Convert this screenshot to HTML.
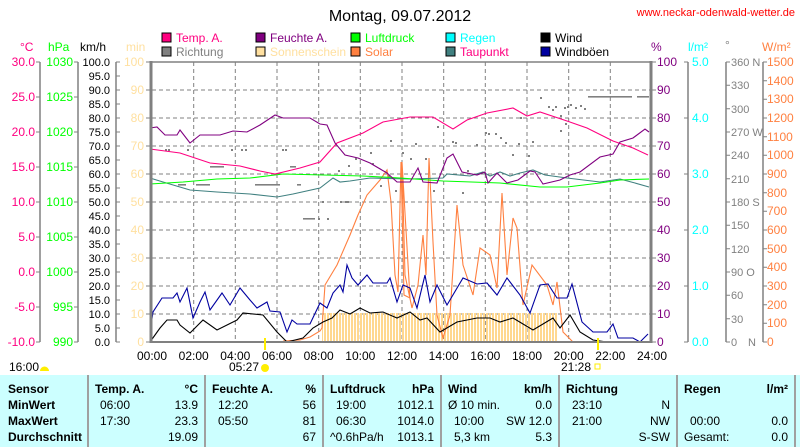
<!DOCTYPE html>
<html><head><meta charset="utf-8"><style>
html,body{margin:0;padding:0;background:#fff;width:800px;height:447px;overflow:hidden}
svg{display:block;font-family:"Liberation Sans",sans-serif;font-size:11px}
</style></head><body>
<svg width="800" height="447" viewBox="0 0 800 447" xmlns="http://www.w3.org/2000/svg">
<text x="400" y="21" font-size="16" text-anchor="middle">Montag, 09.07.2012</text>
<text x="795" y="16" font-size="11" fill="#ff0000" text-anchor="end">www.neckar-odenwald-wetter.de</text>
<g font-size="12">
<rect x="162" y="33" width="9" height="9" fill="#ff0080" stroke="#000"/><text x="176" y="42" fill="#ff0080">Temp. A.</text>
<rect x="256" y="33" width="9" height="9" fill="#800080" stroke="#000"/><text x="270" y="42" fill="#800080">Feuchte A.</text>
<rect x="351" y="33" width="9" height="9" fill="#00ff00" stroke="#000"/><text x="365" y="42" fill="#00ff00">Luftdruck</text>
<rect x="446" y="33" width="9" height="9" fill="#00ffff" stroke="#000"/><text x="460" y="42" fill="#00ffff">Regen</text>
<rect x="541" y="33" width="9" height="9" fill="#000" stroke="#000"/><text x="555" y="42" fill="#000">Wind</text>
<rect x="162" y="47" width="9" height="9" fill="#808080" stroke="#000"/><text x="176" y="56" fill="#808080">Richtung</text>
<rect x="256" y="47" width="9" height="9" fill="#ffe0a0" stroke="#000"/><text x="270" y="56" fill="#ffe0a0">Sonnenschein</text>
<rect x="351" y="47" width="9" height="9" fill="#ff8040" stroke="#000"/><text x="365" y="56" fill="#ff8040">Solar</text>
<rect x="446" y="47" width="9" height="9" fill="#408080" stroke="#000"/><text x="460" y="56" fill="#ff0080">Taupunkt</text>
<rect x="541" y="47" width="9" height="9" fill="#0000a0" stroke="#000"/><text x="555" y="56" fill="#000">Windböen</text>
</g>
<g font-size="12">
<text x="20" y="51" fill="#ff0080">°C</text>
<text x="48" y="51" fill="#00ff00">hPa</text>
<text x="80" y="51" fill="#000">km/h</text>
<text x="126" y="51" fill="#ffe0a0">min</text>
<text x="651" y="51" fill="#800080">%</text>
<text x="688" y="51" fill="#00ffff">l/m²</text>
<text x="725" y="49" fill="#808080">°</text>
<text x="762" y="51" fill="#ff8040">W/m²</text>
</g>
<g stroke="#808080" stroke-width="1.5">
<line x1="40" y1="62" x2="40" y2="342"/><line x1="78" y1="62" x2="78" y2="342"/><line x1="116" y1="62" x2="116" y2="342"/>
<line x1="688" y1="62" x2="688" y2="342"/><line x1="726" y1="62" x2="726" y2="342"/><line x1="763" y1="62" x2="763" y2="342"/>
</g>
<g fill="#ff0080" text-anchor="end" font-size="12">
<text x="35" y="66">30.0</text><text x="35" y="101">25.0</text><text x="35" y="136">20.0</text><text x="35" y="171">15.0</text><text x="35" y="206">10.0</text><text x="35" y="241">5.0</text><text x="35" y="276">0.0</text><text x="35" y="311">-5.0</text><text x="35" y="346">-10.0</text>
</g>
<g stroke="#808080"><path d="M36 62h4M36 97h4M36 132h4M36 167h4M36 202h4M36 237h4M36 272h4M36 307h4M36 342h4M74 62h4M74 97h4M74 132h4M74 167h4M74 202h4M74 237h4M74 272h4M74 307h4M74 342h4"/></g>
<g fill="#00ff00" text-anchor="end" font-size="12">
<text x="73" y="66">1030</text><text x="73" y="101">1025</text><text x="73" y="136">1020</text><text x="73" y="171">1015</text><text x="73" y="206">1010</text><text x="73" y="241">1005</text><text x="73" y="276">1000</text><text x="73" y="311">995</text><text x="73" y="346">990</text>
</g>
<g fill="#000" text-anchor="end">
<text x="110" y="66">100.0</text><text x="110" y="80">95.0</text><text x="110" y="94">90.0</text><text x="110" y="108">85.0</text><text x="110" y="122">80.0</text><text x="110" y="136">75.0</text><text x="110" y="150">70.0</text><text x="110" y="164">65.0</text><text x="110" y="178">60.0</text><text x="110" y="192">55.0</text><text x="110" y="206">50.0</text><text x="110" y="220">45.0</text><text x="110" y="234">40.0</text><text x="110" y="248">35.0</text><text x="110" y="262">30.0</text><text x="110" y="276">25.0</text><text x="110" y="290">20.0</text><text x="110" y="304">15.0</text><text x="110" y="318">10.0</text><text x="110" y="332">5.0</text><text x="110" y="346">0.0</text>
</g>
<g stroke="#808080"><path d="M116 62h4M116 76h4M116 90h4M116 104h4M116 118h4M116 132h4M116 146h4M116 160h4M116 174h4M116 188h4M116 202h4M116 216h4M116 230h4M116 244h4M116 258h4M116 272h4M116 286h4M116 300h4M116 314h4M116 328h4M116 342h4"/>
<path d="M146 62h4M146 90h4M146 118h4M146 146h4M146 174h4M146 202h4M146 230h4M146 258h4M146 286h4M146 314h4M146 342h4"/></g>
<g fill="#ffe0a0" text-anchor="end" font-size="12">
<text x="144" y="66">100</text><text x="144" y="94">90</text><text x="144" y="122">80</text><text x="144" y="150">70</text><text x="144" y="178">60</text><text x="144" y="206">50</text><text x="144" y="234">40</text><text x="144" y="262">30</text><text x="144" y="290">20</text><text x="144" y="318">10</text><text x="144" y="346">0</text>
</g>
<g stroke="#808080"><path d="M652 62h4M652 90h4M652 118h4M652 146h4M652 174h4M652 202h4M652 230h4M652 258h4M652 286h4M652 314h4M652 342h4
M684 62h4M684 118h4M684 174h4M684 230h4M684 286h4M684 342h4
M726 62h4M726 85.3h4M726 108.7h4M726 132h4M726 155.3h4M726 178.7h4M726 202h4M726 225.3h4M726 248.7h4M726 272h4M726 295.3h4M726 318.7h4M726 342h4
M763 62h4M763 80.7h4M763 99.3h4M763 118h4M763 136.7h4M763 155.3h4M763 174h4M763 192.7h4M763 211.3h4M763 230h4M763 248.7h4M763 267.3h4M763 286h4M763 304.7h4M763 323.3h4M763 342h4"/></g>
<g fill="#800080" font-size="12">
<text x="657" y="66">100</text><text x="657" y="94">90</text><text x="657" y="122">80</text><text x="657" y="150">70</text><text x="657" y="178">60</text><text x="657" y="206">50</text><text x="657" y="234">40</text><text x="657" y="262">30</text><text x="657" y="290">20</text><text x="657" y="318">10</text><text x="657" y="346">0</text>
</g>
<g fill="#00ffff" font-size="12">
<text x="692" y="66">5.0</text><text x="692" y="122">4.0</text><text x="692" y="178">3.0</text><text x="692" y="234">2.0</text><text x="692" y="290">1.0</text><text x="692" y="346">0.0</text>
</g>
<g fill="#808080">
<text x="731" y="66">360 N</text><text x="731" y="89">330</text><text x="731" y="113">300</text><text x="731" y="136">270 W</text><text x="731" y="159">240</text><text x="731" y="183">210</text><text x="731" y="206">180 S</text><text x="731" y="229">150</text><text x="731" y="253">120</text><text x="731" y="276">90 O</text><text x="731" y="299">60</text><text x="731" y="323">30</text><text x="731" y="346">0</text><text x="748" y="346">N</text>
</g>
<g fill="#ff8040" font-size="12">
<text x="767" y="66">1500</text><text x="767" y="85">1400</text><text x="767" y="103">1300</text><text x="767" y="122">1200</text><text x="767" y="141">1100</text><text x="767" y="159">1000</text><text x="767" y="178">900</text><text x="767" y="197">800</text><text x="767" y="215">700</text><text x="767" y="234">600</text><text x="767" y="253">500</text><text x="767" y="271">400</text><text x="767" y="290">300</text><text x="767" y="309">200</text><text x="767" y="327">100</text><text x="767" y="346">0</text>
</g>
<g stroke="#808080" stroke-dasharray="4,3">
<path d="M193.7 62V342M235.3 62V342M277 62V342M318.7 62V342M360.3 62V342M402 62V342M443.7 62V342M485.3 62V342M527 62V342M568.7 62V342M610.3 62V342"/>
<path d="M152 90H651M152 118H651M152 146H651M152 174H651M152 202H651M152 230H651M152 258H651M152 286H651M152 314H651"/>
</g>
<defs><pattern id="sun" x="0" y="0" width="3" height="10" patternUnits="userSpaceOnUse"><rect x="0" y="0" width="2" height="10" fill="#ffd890"/></pattern></defs>
<rect x="322" y="313" width="236" height="29" fill="url(#sun)"/>
<g fill="#808080">
<rect x="165" y="149" width="2" height="2"/><rect x="168" y="149" width="2" height="2"/><rect x="187" y="149" width="2" height="2"/><rect x="231" y="149" width="2" height="2"/><rect x="241" y="149" width="2" height="2"/><rect x="245" y="149" width="2" height="2"/><rect x="282" y="149" width="2" height="2"/><rect x="285" y="149" width="2" height="2"/>
<rect x="210" y="166" width="14" height="1.6"/><rect x="290" y="166" width="6" height="1.6"/><rect x="178" y="184" width="8" height="1.6"/><rect x="196" y="184" width="14" height="1.6"/><rect x="255" y="184" width="25" height="1.6"/><rect x="297" y="184" width="4" height="1.6"/>
<rect x="303" y="218" width="12" height="1.6"/><rect x="318" y="218" width="2" height="2"/><rect x="327" y="218" width="2" height="2"/>
<rect x="322" y="201" width="2" height="2"/><rect x="340" y="201" width="2" height="2"/><rect x="345" y="201" width="4" height="2"/>
<rect x="338" y="170" width="2" height="2"/><rect x="348" y="165" width="2" height="2"/><rect x="355" y="158" width="2" height="2"/><rect x="370" y="152" width="2" height="2"/><rect x="390" y="140" width="2" height="2"/><rect x="372" y="163" width="2" height="2"/><rect x="380" y="185" width="2" height="2"/><rect x="388" y="175" width="2" height="2"/><rect x="395" y="190" width="2" height="2"/><rect x="402" y="152" width="2" height="2"/>
<rect x="410" y="158" width="2" height="2"/><rect x="415" y="143" width="2" height="2"/><rect x="425" y="158" width="2" height="2"/><rect x="433" y="190" width="2" height="2"/><rect x="437" y="126" width="2" height="2"/><rect x="452" y="141" width="2" height="2"/><rect x="455" y="142" width="2" height="2"/><rect x="462" y="192" width="2" height="2"/><rect x="467" y="170" width="2" height="2"/><rect x="476" y="144" width="2" height="2"/><rect x="485" y="132" width="2" height="2"/><rect x="488" y="133" width="2" height="2"/><rect x="495" y="133" width="2" height="2"/><rect x="500" y="137" width="2" height="2"/><rect x="505" y="142" width="2" height="2"/><rect x="512" y="154" width="2" height="2"/><rect x="518" y="143" width="2" height="2"/><rect x="520" y="117" width="2" height="2"/><rect x="528" y="155" width="2" height="2"/><rect x="532" y="141" width="2" height="2"/><rect x="540" y="97" width="2" height="2"/><rect x="548" y="106" width="2" height="2"/><rect x="552" y="109" width="2" height="2"/><rect x="555" y="106" width="2" height="2"/><rect x="560" y="115" width="2" height="2"/><rect x="564" y="107" width="2" height="2"/><rect x="567" y="106" width="2" height="2"/><rect x="570" y="104" width="2" height="2"/><rect x="575" y="107" width="2" height="2"/><rect x="580" y="105" width="2" height="2"/><rect x="584" y="108" width="2" height="2"/><rect x="565" y="123" width="2" height="2"/><rect x="560" y="130" width="2" height="2"/>
<rect x="588" y="96" width="44" height="1.6"/><rect x="637" y="96" width="12" height="1.6"/>
</g>
<g fill="none" stroke-width="1.1">
<polyline stroke="#ff8040" points="283,341 300,340 310,337 320,331 322,328 325,285 337,265 350,235 358,215 367,195 380,180 387,170 391,202 395,275 398,292 401,162 404,295 410,298 402,162 405,275 412,308 418,285 423,235 426,275 429,158 433,242 437,315 443,338 450,315 457,205 463,265 473,295 480,248 490,255 497,288 502,193 507,275 513,218 517,228 523,305 532,265 547,285 553,305 557,282 563,332 573,342"/>
<polyline stroke="#408080" points="150,178 163,182 190,190 217,192 250,194 277,197 293,194 320,188 333,178 340,182 350,181 370,178 410,179 443,178 447,174 470,176 483,172 490,176 500,172 510,176 520,173 533,170 545,175 567,178 600,182 620,179 635,183 649,187"/>
<polyline stroke="#00ff00" points="150,184 183,182 217,179 250,178 283,174 363,176 400,178 443,181 500,183 540,187 567,187 600,183 620,180 649,179"/>
<polyline stroke="#ff0080" points="150,149 180,153 210,163 240,166 260,171 275,174 300,168 320,162 337,143 363,133 383,122 410,117 433,117 453,129 467,120 487,113 513,108 527,116 540,112 567,121 587,128 613,141 633,148 648,155"/>
<polyline stroke="#800080" points="150,128 157,127 165,135 177,135 180,130 190,143 200,135 220,135 233,131 247,132 260,125 275,115 283,118 310,118 320,124 327,125 335,143 345,155 358,158 370,163 387,173 397,182 410,182 418,168 423,182 437,183 447,158 453,154 462,172 477,175 485,172 488,183 497,173 507,183 518,180 530,171 535,172 543,184 560,180 570,175 580,172 600,157 613,154 620,142 633,138 645,129 649,132"/>
<polyline stroke="#0000a0" points="150,332 153,312 162,298 173,298 177,293 180,302 187,288 193,318 200,302 205,292 210,310 222,293 230,305 240,288 250,300 257,308 267,302 270,311 280,312 287,332 292,320 297,324 310,324 320,303 327,308 333,293 340,285 343,292 347,265 352,278 358,285 367,275 373,283 387,283 390,278 397,302 403,285 410,288 417,308 425,275 430,302 437,285 447,305 463,278 477,284 487,283 497,295 507,278 520,295 530,313 540,285 548,284 557,298 567,298 572,284 582,322 593,332 607,332 613,324 618,338 633,338 640,342 648,334"/>
<polyline stroke="#000" points="150,342 160,328 167,320 177,320 180,325 190,333 203,320 217,330 237,320 243,313 263,315 277,332 287,342 303,338 313,328 323,322 332,318 340,310 350,314 360,308 370,313 383,312 397,318 410,312 420,320 427,318 440,332 457,322 477,318 490,318 500,322 513,318 533,330 553,318 560,328 570,315 580,332 593,340 607,342"/>
</g>
<path d="M151 62H651" stroke="#808080" stroke-width="1.5"/>
<path d="M151 342H651" stroke="#808080" stroke-width="2"/>
<path d="M151 61V343" stroke="#808080" stroke-width="3"/>
<path d="M651 61V343" stroke="#808080" stroke-width="3"/>
<g text-anchor="middle" font-size="12">
<text x="152" y="360">00:00</text><text x="193.7" y="360">02:00</text><text x="235.3" y="360">04:00</text><text x="277" y="360">06:00</text><text x="318.7" y="360">08:00</text><text x="360.3" y="360">10:00</text><text x="402" y="360">12:00</text><text x="443.7" y="360">14:00</text><text x="485.3" y="360">16:00</text><text x="527" y="360">18:00</text><text x="568.7" y="360">20:00</text><text x="610.3" y="360">22:00</text><text x="652" y="360">24:00</text>
</g>
<g font-size="12" text-anchor="end">
<text x="259" y="371">05:27</text><text x="591" y="371">21:28</text>
<text x="39" y="371">16:00</text>
</g>
<path d="M40 371a4 4 0 0 1 9 0z" fill="#ffee00"/>
<line x1="265" y1="338" x2="265" y2="350" stroke="#ffee00" stroke-width="2"/>
<line x1="598" y1="338" x2="598" y2="350" stroke="#ffee00" stroke-width="2"/>
<circle cx="265" cy="368" r="4" fill="#ffee00"/>
<rect x="595" y="364" width="5" height="5" fill="none" stroke="#ffee00"/>
<rect x="0" y="375" width="800" height="72" fill="#ccffff"/>
<g stroke="#a0a0a0" stroke-width="2"><path d="M88 375V447M205 375V447M323 375V447M441 375V447M559 375V447M677 375V447M795 375V447"/></g>
<g font-weight="bold" font-size="12">
<text x="8" y="393">Sensor</text><text x="8" y="409">MinWert</text><text x="8" y="425">MaxWert</text><text x="8" y="441">Durchschnitt</text>
<text x="95" y="393">Temp. A.</text><text x="198" y="393" text-anchor="end">°C</text>
<text x="212" y="393">Feuchte A.</text><text x="316" y="393" text-anchor="end">%</text>
<text x="330" y="393">Luftdruck</text><text x="434" y="393" text-anchor="end">hPa</text>
<text x="448" y="393">Wind</text><text x="552" y="393" text-anchor="end">km/h</text>
<text x="566" y="393">Richtung</text>
<text x="684" y="393">Regen</text><text x="788" y="393" text-anchor="end">l/m²</text>
</g>
<g font-size="12">
<text x="100" y="409">06:00</text><text x="198" y="409" text-anchor="end">13.9</text>
<text x="100" y="425">17:30</text><text x="198" y="425" text-anchor="end">23.3</text>
<text x="198" y="441" text-anchor="end">19.09</text>
<text x="218" y="409">12:20</text><text x="316" y="409" text-anchor="end">56</text>
<text x="218" y="425">05:50</text><text x="316" y="425" text-anchor="end">81</text>
<text x="316" y="441" text-anchor="end">67</text>
<text x="336" y="409">19:00</text><text x="434" y="409" text-anchor="end">1012.1</text>
<text x="336" y="425">06:30</text><text x="434" y="425" text-anchor="end">1014.0</text>
<text x="330" y="441">^0.6hPa/h</text><text x="434" y="441" text-anchor="end">1013.1</text>
<text x="448" y="409">Ø 10 min.</text><text x="552" y="409" text-anchor="end">0.0</text>
<text x="454" y="425">10:00</text><text x="552" y="425" text-anchor="end">SW 12.0</text>
<text x="454" y="441">5,3 km</text><text x="552" y="441" text-anchor="end">5.3</text>
<text x="572" y="409">23:10</text><text x="670" y="409" text-anchor="end">N</text>
<text x="572" y="425">21:00</text><text x="670" y="425" text-anchor="end">NW</text>
<text x="670" y="441" text-anchor="end">S-SW</text>
<text x="690" y="425">00:00</text><text x="788" y="425" text-anchor="end">0.0</text>
<text x="684" y="441">Gesamt:</text><text x="788" y="441" text-anchor="end">0.0</text>
</g>
</svg>
</body></html>
